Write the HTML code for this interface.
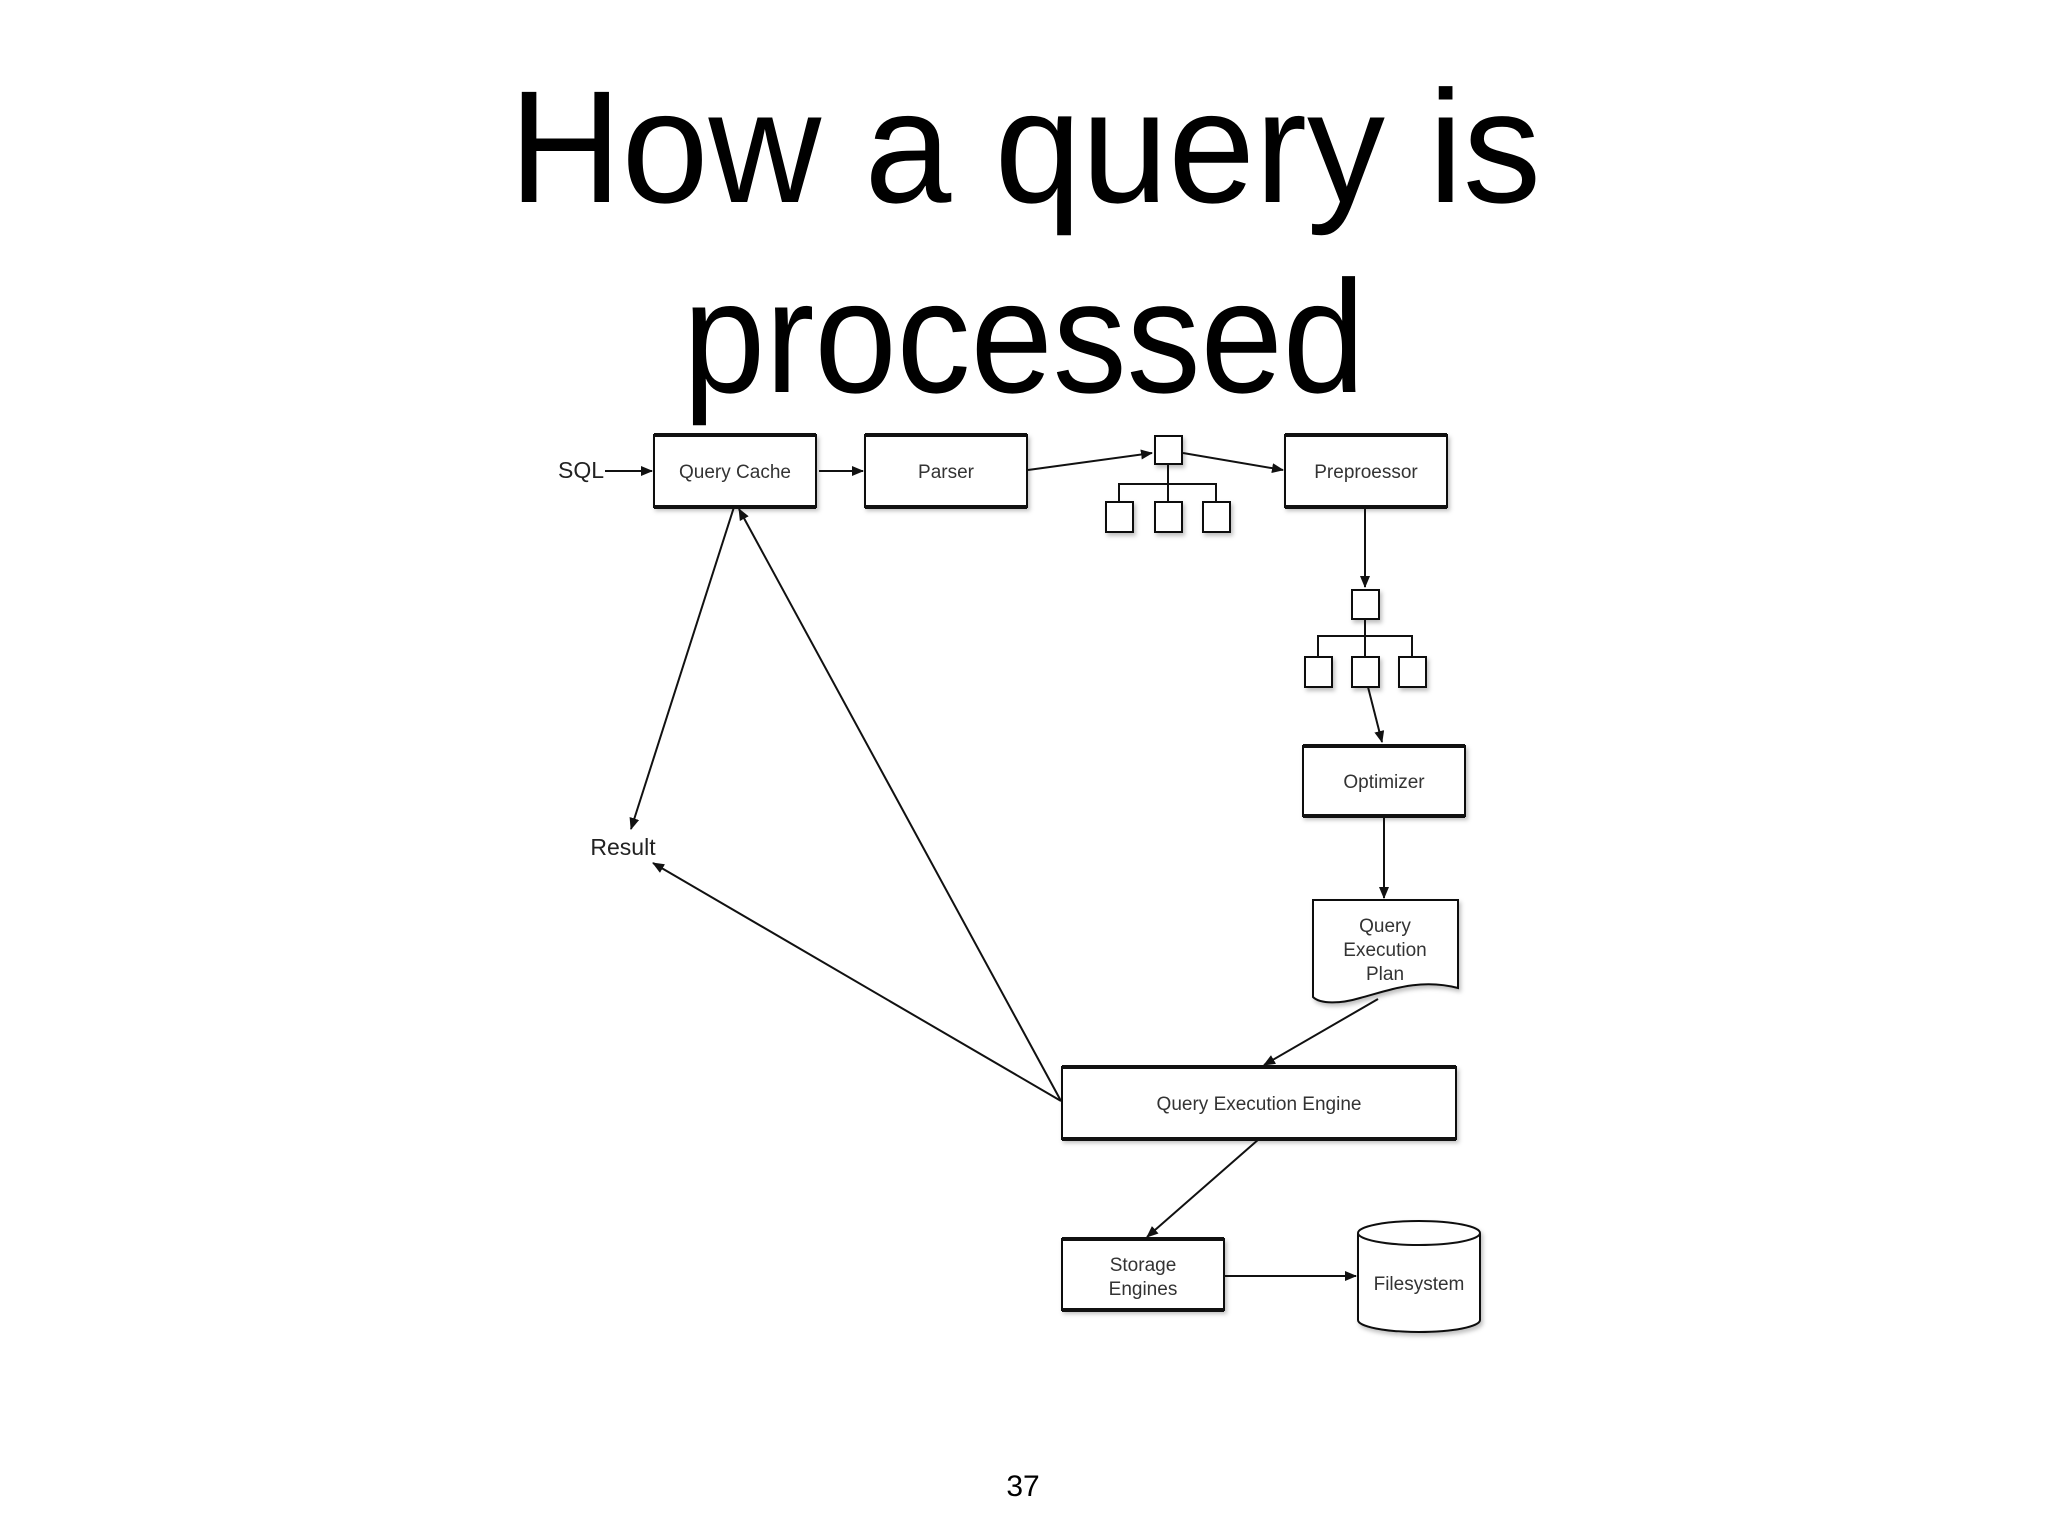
<!DOCTYPE html>
<html><head><meta charset="utf-8"><style>
html,body{margin:0;padding:0;background:#fff;}
svg{display:block;}
</style></head><body>
<svg width="2048" height="1536" viewBox="0 0 2048 1536" xmlns="http://www.w3.org/2000/svg">
<defs>
<marker id="a" markerWidth="12" markerHeight="10" refX="11" refY="5" orient="auto" markerUnits="userSpaceOnUse">
<path d="M0,0 L12,5 L0,10 z" fill="#111"/>
</marker>
<filter id="sh" x="-10%" y="-10%" width="130%" height="140%"><feDropShadow dx="2" dy="3" stdDeviation="2" flood-color="#000" flood-opacity="0.25"/></filter>
</defs>
<g font-family="Liberation Sans, sans-serif" fill="#000">
<text x="1025" y="202" font-size="160" text-anchor="middle" textLength="1032" lengthAdjust="spacingAndGlyphs">How a query is</text>
<text x="1024" y="392" font-size="160" text-anchor="middle" textLength="682" lengthAdjust="spacingAndGlyphs">processed</text>
<text x="1023" y="1496" font-size="30" text-anchor="middle">37</text>
</g>
<g stroke="#111" stroke-width="2" fill="#fff">
<!-- boxes -->
<g filter="url(#sh)">
<rect x="654" y="435" width="162" height="72"/>
<rect x="865" y="435" width="162" height="72"/>
<rect x="1285" y="435" width="162" height="72"/>
<rect x="1303" y="746" width="162" height="70"/>
<rect x="1062" y="1067" width="394" height="72"/>
<rect x="1062" y="1239" width="162" height="71"/>
<path d="M1313,900 H1458 V988 C1420,978 1390,990 1360,998 C1340,1004 1320,1004 1313,997 Z"/>
<path d="M1358,1233 V1320 A61,12 0 0 0 1480,1320 V1233 A61,12 0 0 0 1358,1233 Z"/>
<rect x="1155" y="436" width="27" height="28"/>
<rect x="1106" y="502" width="27" height="30"/>
<rect x="1155" y="502" width="27" height="30"/>
<rect x="1203" y="502" width="27" height="30"/>
<rect x="1352" y="590" width="27" height="29"/>
<rect x="1305" y="657" width="27" height="30"/>
<rect x="1352" y="657" width="27" height="30"/>
<rect x="1399" y="657" width="27" height="30"/>
</g>
<path d="M1358,1233 A61,12 0 0 0 1480,1233" fill="none"/>
<!-- thick borders -->
<g stroke-width="4">
<path d="M654,435 H816 M654,507 H816 M865,435 H1027 M865,507 H1027 M1285,435 H1447 M1285,507 H1447 M1303,746 H1465 M1303,816 H1465 M1062,1067 H1456 M1062,1139 H1456 M1062,1239 H1224 M1062,1310 H1224"/>
</g>
<!-- tree connectors -->
<path d="M1168,464 V502 M1119,502 V484 H1216 V502 M1365,619 V657 M1318,657 V636 H1412 V657" fill="none"/>
<!-- arrows -->
<g fill="none" marker-end="url(#a)">
<line x1="605" y1="471" x2="652" y2="471"/>
<line x1="819" y1="471" x2="863" y2="471"/>
<line x1="1028" y1="470" x2="1152" y2="453"/>
<line x1="1183" y1="453" x2="1283" y2="470"/>
<line x1="1365" y1="507" x2="1365" y2="587"/>
<line x1="1368" y1="687" x2="1382" y2="742"/>
<line x1="1384" y1="816" x2="1384" y2="898"/>
<line x1="1378" y1="999" x2="1264" y2="1065"/>
<line x1="1259" y1="1139" x2="1147" y2="1237"/>
<line x1="1224" y1="1276" x2="1356" y2="1276"/>
<line x1="734" y1="507" x2="631" y2="829"/>
<line x1="1061" y1="1101" x2="739" y2="509"/>
<line x1="1061" y1="1101" x2="653" y2="863"/>
</g>
</g>
<g font-family="Liberation Sans, sans-serif" fill="#333" font-size="19" text-anchor="middle">
<text x="581" y="478" font-size="23" fill="#222">SQL</text>
<text x="735" y="478">Query Cache</text>
<text x="946" y="478">Parser</text>
<text x="1366" y="478">Preproessor</text>
<text x="1384" y="788">Optimizer</text>
<text x="1385" y="932">Query</text>
<text x="1385" y="956">Execution</text>
<text x="1385" y="980">Plan</text>
<text x="1259" y="1110">Query Execution Engine</text>
<text x="1143" y="1271">Storage</text>
<text x="1143" y="1295">Engines</text>
<text x="1419" y="1290">Filesystem</text>
<text x="623" y="855" font-size="23" fill="#222">Result</text>
</g>
</svg>
</body></html>
